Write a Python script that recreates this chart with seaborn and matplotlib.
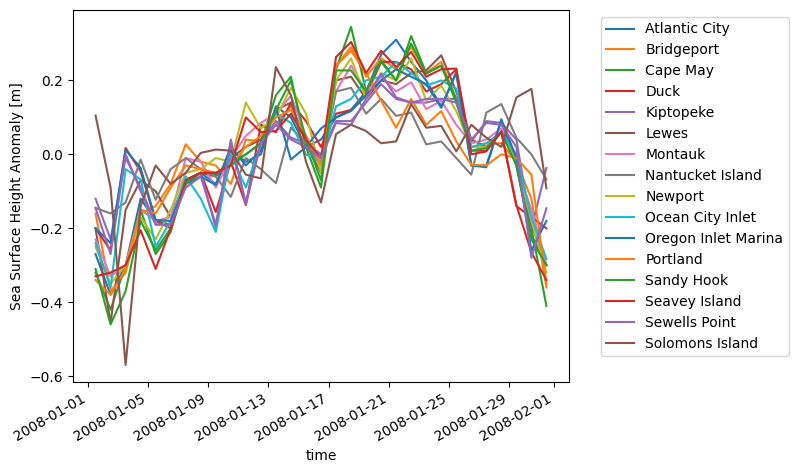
import pandas as pd
import matplotlib
matplotlib.use("Agg")
import matplotlib.pyplot as plt
import seaborn as sns

# daily values, 2008-01-01 12:00 .. 2008-01-31 12:00
times = pd.date_range("2008-01-01 12:00", periods=31, freq="D")

stations = [
    "Atlantic City", "Bridgeport", "Cape May", "Duck", "Kiptopeke", "Lewes",
    "Montauk", "Nantucket Island", "Newport", "Ocean City Inlet",
    "Oregon Inlet Marina", "Portland", "Sandy Hook", "Seavey Island",
    "Sewells Point", "Solomons Island",
]

atlantic_city = [-0.27, -0.38, -0.30, -0.12, -0.18, -0.19, -0.07, -0.05, -0.08, 0.01, -0.02,
                 0.00, 0.13, 0.10, 0.02, 0.04, 0.10, 0.12, 0.17, 0.27, 0.31, 0.25, 0.20, 0.13,
                 0.22, -0.03, -0.03, 0.09, -0.03, -0.22, -0.30]
bridgeport = [-0.16, -0.37, -0.32, -0.16, -0.14, -0.08, 0.027, -0.02, -0.03, -0.08, 0.04,
              0.035, 0.08, 0.13, 0.04, -0.03, 0.24, 0.29, 0.21, 0.26, 0.23, 0.29, 0.22, 0.25,
              0.15, 0.02, 0.03, 0.03, -0.02, -0.12, -0.36]
cape_may = [-0.32, -0.42, -0.30, -0.15, -0.27, -0.21, -0.07, -0.05, -0.055, -0.02, 0.00,
            0.03, 0.16, 0.21, 0.02, -0.09, 0.23, 0.345, 0.17, 0.25, 0.20, 0.32, 0.22, 0.24,
            0.15, 0.02, 0.02, 0.06, -0.02, -0.20, -0.41]
duck = [-0.20, -0.26, 0.017, -0.046, -0.18, -0.20, -0.07, -0.05, -0.156, -0.02, -0.137,
        0.08, 0.06, 0.14, 0.09, 0.02, 0.11, 0.12, 0.16, 0.25, 0.25, 0.23, 0.17, 0.19,
        0.23, 0.01, 0.01, 0.06, -0.14, -0.17, -0.20]
kiptopeke = [-0.12, -0.23, -0.01, -0.09, -0.19, -0.19, -0.08, -0.05, -0.20, 0.04, -0.137,
             0.035, 0.09, 0.045, 0.03, 0.0, 0.09, 0.09, 0.14, 0.19, 0.15, 0.14, 0.14, 0.15,
             0.15, 0.035, 0.09, 0.085, 0.04, -0.20, -0.037]
lewes = [-0.20, -0.456, -0.15, -0.07, -0.10, -0.17, -0.07, -0.05, -0.06, -0.01, 0.02,
         0.04, 0.12, 0.14, 0.03, -0.05, 0.20, 0.21, 0.15, 0.20, 0.19, 0.22, 0.227, 0.268,
         0.17, 0.04, 0.02, 0.06, -0.02, -0.19, -0.30]
montauk = [-0.23, -0.33, -0.30, -0.15, -0.18, -0.17, -0.01, -0.02, -0.09, -0.01, 0.05,
           0.085, 0.11, 0.158, 0.05, -0.02, 0.17, 0.24, 0.17, 0.21, 0.17, 0.195, 0.122, 0.145,
           0.08, 0.03, 0.04, 0.07, -0.03, -0.15, -0.30]
nantucket = [-0.145, -0.16, -0.13, -0.014, -0.123, -0.04, -0.01, -0.04, -0.06, -0.115, -0.01,
             -0.04, -0.078, 0.072, 0.03, -0.03, 0.17, 0.18, 0.11, 0.15, 0.104, 0.113, 0.027, 0.035,
             -0.01, -0.055, 0.113, 0.136, 0.045, 0.0, -0.068]
newport = [-0.25, -0.35, -0.30, -0.17, -0.23, -0.15, -0.05, -0.04, -0.01, -0.02, 0.14,
           0.07, 0.10, 0.18, 0.11, -0.05, 0.20, 0.26, 0.15, 0.22, 0.20, 0.26, 0.145, 0.186,
           0.117, 0.02, 0.02, 0.06, -0.02, -0.18, -0.32]
ocean_city = [-0.24, -0.36, -0.04, -0.068, -0.25, -0.18, -0.06, -0.12, -0.21, 0.0, -0.09,
              0.03, 0.11, 0.085, 0.00, -0.02, 0.13, 0.15, 0.20, 0.21, 0.25, 0.22, 0.186, 0.20,
              0.178, 0.02, 0.03, 0.06, 0.0, -0.17, -0.283]
oregon_inlet = [-0.20, -0.24, 0.012, -0.037, -0.178, -0.18, -0.08, -0.06, -0.083, 0.02, -0.03,
                0.01, 0.126, -0.014, 0.02, 0.07, 0.10, 0.117, 0.16, 0.20, 0.23, 0.21, 0.19, 0.126,
                0.222, -0.03, -0.035, 0.095, -0.01, -0.26, -0.18]
portland = [-0.34, -0.38, -0.31, -0.15, -0.16, -0.09, -0.03, -0.04, -0.05, -0.03, 0.02,
            0.05, 0.10, 0.12, 0.05, -0.03, 0.24, 0.28, 0.22, 0.145, 0.072, 0.15, 0.08, 0.117,
            0.035, -0.028, -0.03, 0.0, -0.01, -0.055, -0.35]
sandy_hook = [-0.31, -0.46, -0.37, -0.18, -0.26, -0.20, -0.08, -0.05, -0.05, -0.03, 0.00,
              0.03, 0.12, 0.20, 0.04, -0.07, 0.227, 0.227, 0.17, 0.254, 0.20, 0.30, 0.218, 0.24,
              0.14, 0.01, 0.017, 0.06, -0.03, -0.23, -0.30]
seavey_island = [-0.33, -0.32, -0.30, -0.205, -0.31, -0.20, -0.07, -0.05, -0.05, -0.03, 0.10,
                 0.06, 0.063, 0.11, 0.04, -0.01, 0.263, 0.304, 0.22, 0.28, 0.236, 0.277, 0.21, 0.23,
                 0.232, 0.0, 0.008, 0.063, -0.137, -0.265, -0.34]
sewells_point = [-0.145, -0.27, 0.0, -0.10, -0.19, -0.19, -0.09, -0.06, -0.19, 0.03, -0.13,
                 0.03, 0.08, 0.04, 0.02, -0.01, 0.085, 0.08, 0.15, 0.218, 0.154, 0.14, 0.15, 0.15,
                 0.14, 0.04, 0.085, 0.08, 0.02, -0.28, -0.146]
solomons_island = [0.105, -0.09, -0.57, -0.14, -0.03, -0.08, -0.05, 0.004, 0.013, 0.01, -0.055,
                   -0.065, 0.236, 0.16, -0.02, -0.13, 0.055, 0.08, 0.063, 0.03, 0.035, 0.136, 0.072, 0.077,
                   0.008, 0.08, 0.045, 0.02, 0.154, 0.177, -0.092]

series = [atlantic_city, bridgeport, cape_may, duck, kiptopeke, lewes, montauk, nantucket,
          newport, ocean_city, oregon_inlet, portland, sandy_hook, seavey_island,
          sewells_point, solomons_island]

# long-form table for seaborn
frames = []
for name, vals in zip(stations, series):
    frames.append(pd.DataFrame({"time": times, "ssh": vals, "station": name}))
df = pd.concat(frames, ignore_index=True)

palette = [f"C{i % 10}" for i in range(len(stations))]

fig, ax = plt.subplots(figsize=(7.98, 4.71), dpi=100)
sns.lineplot(data=df, x="time", y="ssh", hue="station", hue_order=stations,
             palette=palette, linewidth=1.5, ax=ax)

ax.set_xlabel("time")
ax.set_ylabel("Sea Surface Height Anomaly [m]")
fig.autofmt_xdate()

handles, labels = ax.get_legend_handles_labels()
ax.legend(handles, labels, bbox_to_anchor=(1.05, 1), loc="upper left")

fig.subplots_adjust(left=0.0915, right=0.713, top=0.979, bottom=0.189)
fig.savefig("out.png", dpi=100)
